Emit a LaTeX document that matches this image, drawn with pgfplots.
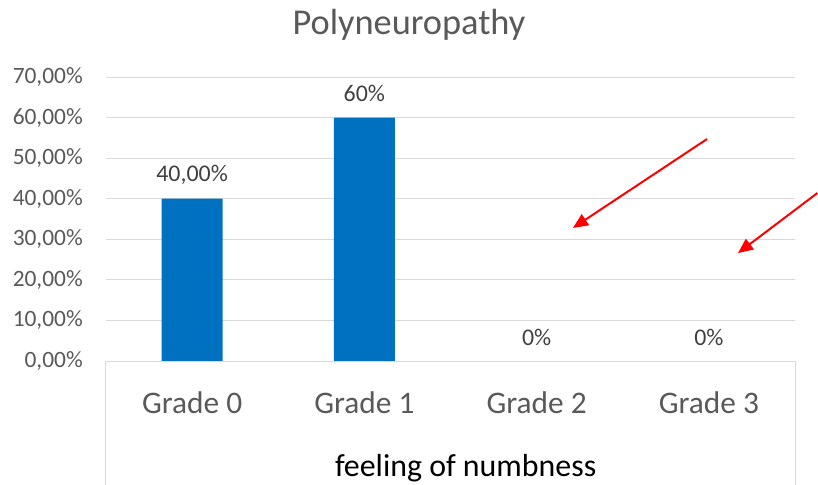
\documentclass[border=0pt]{standalone}
\usepackage{pgfplots}
\pgfplotsset{compat=1.18}
\usepackage{fontspec}
\setmainfont{Carlito}
\usetikzlibrary{arrows.meta}
\definecolor{barblue}{RGB}{0,112,192}
\definecolor{gridgray}{RGB}{217,217,217}
\definecolor{textgray}{RGB}{89,89,89}
\definecolor{labgray}{RGB}{64,64,64}

\begin{document}
\begin{tikzpicture}
% page = 818 x 485 px, axis box sits at x 106..795, y 77..361
\path[use as bounding box] (-106bp,-124bp) rectangle (712bp,361bp);
\begin{axis}[
  scale only axis,
  width=689bp, height=284bp,
  xmin=-0.5, xmax=3.5,
  ymin=0, ymax=70,
  ybar, bar width=61bp,
  xtick={0,1,2,3},
  xticklabels={Grade 0, Grade 1, Grade 2, Grade 3},
  ytick={0,10,...,70},
  yticklabels={0{,}00\%,10{,}00\%,20{,}00\%,30{,}00\%,40{,}00\%,50{,}00\%,60{,}00\%,70{,}00\%},
  major tick length=0pt,
  axis line style={draw=none},
  ymajorgrids, grid style={gridgray, line width=1bp},
  xticklabel style={font=\fontsize{31.5}{31.5}\selectfont, text=textgray, anchor=center, inner sep=0pt, yshift=-42bp},
  yticklabel style={font=\fontsize{23.5}{23.5}\selectfont, text=textgray, anchor=east, inner sep=0pt, xshift=-23bp},
  point meta=explicit symbolic,
  nodes near coords,
  nodes near coords style={font=\fontsize{24}{24}\selectfont, text=labgray, anchor=center, inner sep=0pt, yshift=24bp},
  clip=false,
]
\addplot[fill=barblue, draw=none]
  coordinates {(0,40) [40{,}00\%] (1,60) [60\%] (2,0) [0\%] (3,0) [0\%]};

% category box below the axis
\draw[gridgray, line width=1bp] (rel axis cs:0,0) -- (rel axis cs:1,0);
\draw[gridgray, line width=1bp] (rel axis cs:0,0) -- ++(0pt,-130bp);
\draw[gridgray, line width=1bp] (rel axis cs:1,0) -- ++(0pt,-130bp);
\node[font=\fontsize{32}{32}\selectfont, text=black, anchor=center] at (rel axis cs:0.522,0) [yshift=-107bp] {feeling of numbness};
\node[font=\fontsize{36.5}{36.5}\selectfont, text=textgray, anchor=center] at (rel axis cs:0.4397,1) [yshift=52bp] {Polyneuropathy};

% red annotation arrows
\draw[red, line width=2bp, -{Triangle[length=15bp,width=13bp]}] (axis cs:2.989,54.7) -- (axis cs:2.211,32.8);
\draw[red, line width=2bp, -{Triangle[length=15bp,width=13bp]}] (axis cs:3.63,41.4) -- (axis cs:3.169,26.6);
\end{axis}
\end{tikzpicture}
\end{document}
